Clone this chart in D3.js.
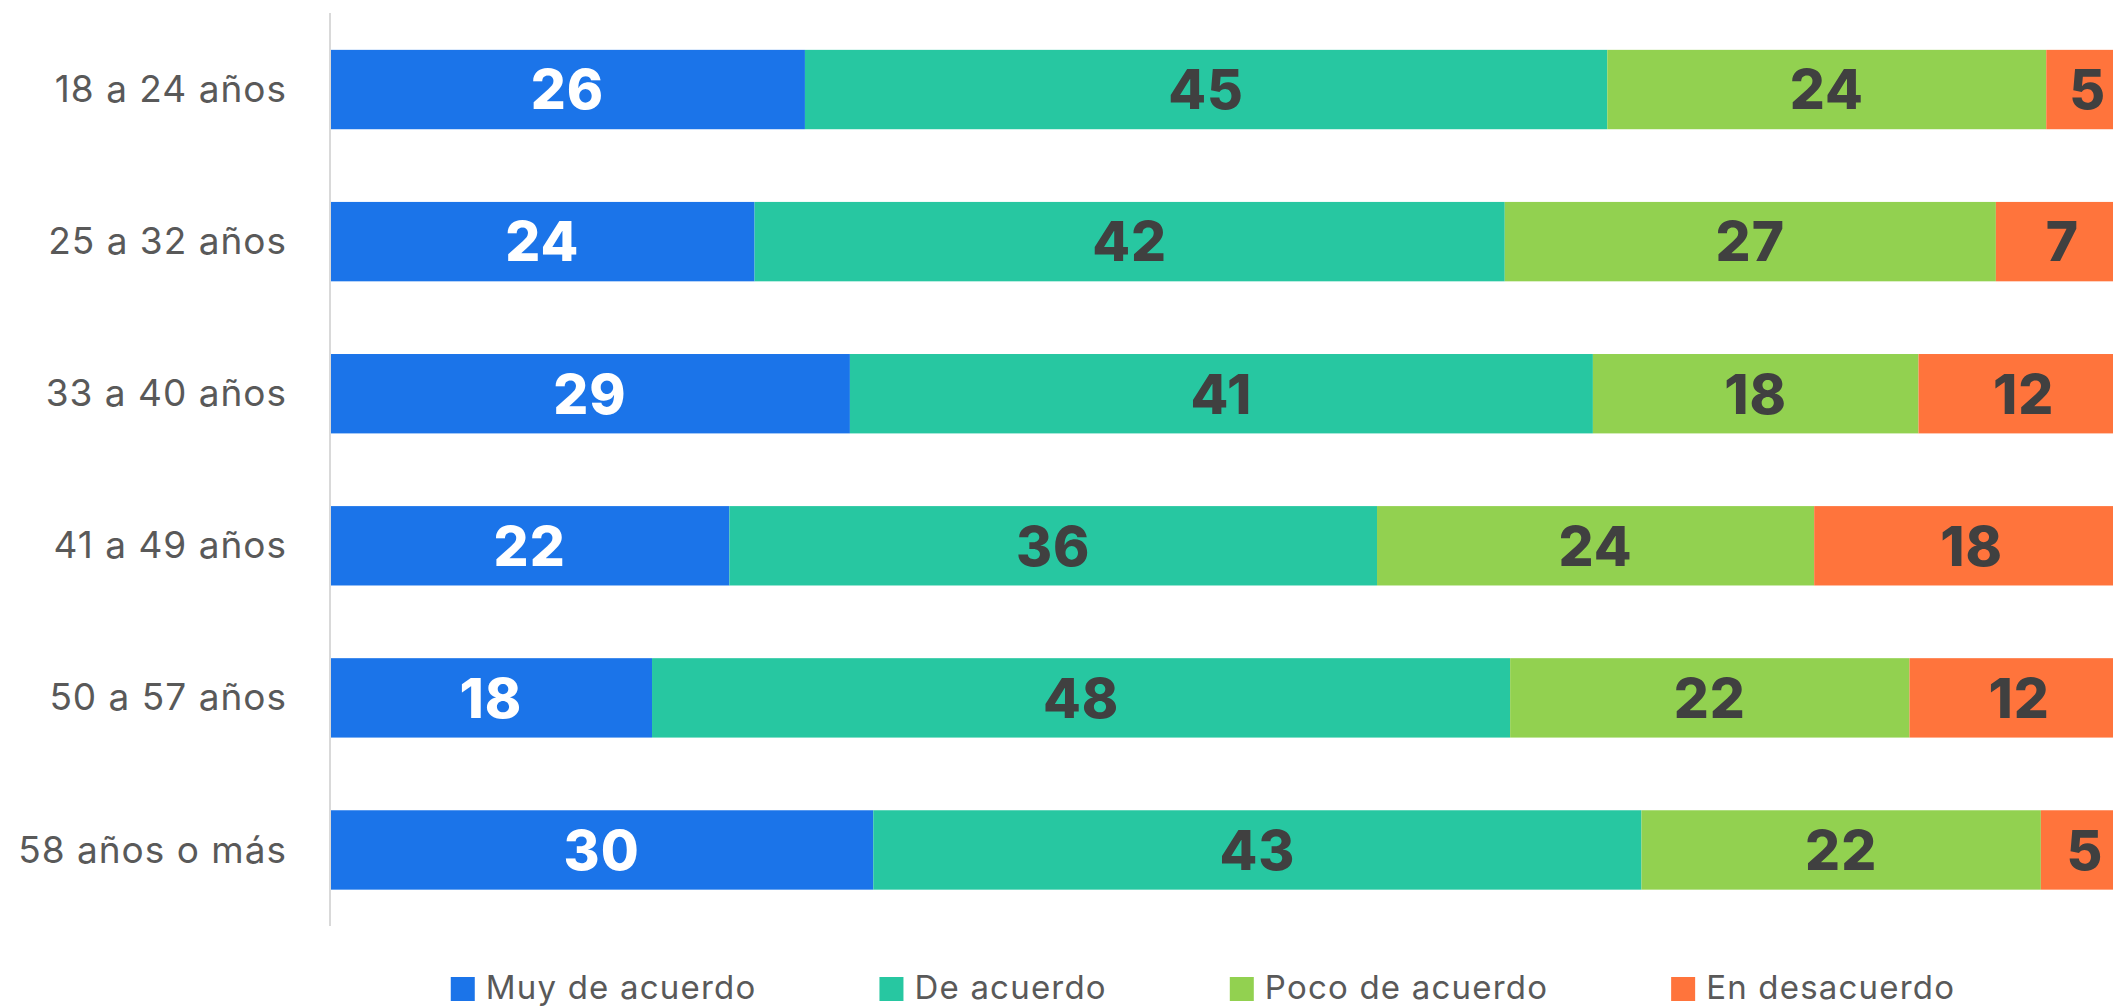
<!DOCTYPE html>
<html>
<head>
	<meta charset="utf-8">
	<title>Grado de acuerdo por edad</title>
	<script src="https://cdn.jsdelivr.net/npm/d3@7"></script>
	<style>
		html, body {
			margin: 0px;
			padding: 0px;
			background: #fff;
			overflow: hidden;
		}
		text { font-family: Inter, "Noto Sans", sans-serif; }
	</style>
</head>
<body>
<svg id="chart" width="2113" height="1006"></svg>
<script type="text/javascript">

	var categories = ["18 a 24 años", "25 a 32 años", "33 a 40 años", "41 a 49 años", "50 a 57 años", "58 años o más"];
	var series = ["Muy de acuerdo", "De acuerdo", "Poco de acuerdo", "En desacuerdo"];

	// values (labels show them rounded)
	var muyDeAcuerdo  = [26.4, 23.6, 28.9, 22.2, 17.9, 30.2];
	var deAcuerdo     = [44.6, 41.7, 41.3, 36.0, 47.7, 42.7];
	var pocoDeAcuerdo = [24.4, 27.3, 18.1, 24.3, 22.2, 22.2];
	var enDesacuerdo  = [4.6, 7.4, 11.7, 17.5, 12.2, 4.9];

	var colors = ["#1b74e9", "#27c7a1", "#92d150", "#ff743c"];
	var labelColors = ["#ffffff", "#404040", "#404040", "#404040"];

	var rows = categories.map(function(c, i) {
		return {cat: c, "Muy de acuerdo": muyDeAcuerdo[i], "De acuerdo": deAcuerdo[i],
			"Poco de acuerdo": pocoDeAcuerdo[i], "En desacuerdo": enDesacuerdo[i]};
	});

	var stacked = d3.stack().keys(series)(rows);

	var svg = d3.select("#chart");

	var x = d3.scaleLinear().domain([0, 100]).range([330, 2129]);
	var y = d3.scaleBand().domain(categories).range([13.5, 926]).paddingInner(0.478).paddingOuter(0.239);

	// bars
	var layers = svg.append("g").selectAll("g")
		.data(stacked)
		.enter().append("g")
		.attr("fill", function(d, i) { return colors[i]; });

	layers.selectAll("rect")
		.data(function(d) { return d; })
		.enter().append("rect")
		.attr("x", function(d) { return x(d[0]); })
		.attr("y", function(d) { return y(d.data.cat); })
		.attr("width", function(d) { return x(d[1]) - x(d[0]); })
		.attr("height", y.bandwidth());

	// value labels
	var labels = svg.append("g").selectAll("g")
		.data(stacked)
		.enter().append("g")
		.attr("fill", function(d, i) { return labelColors[i]; });

	labels.selectAll("text")
		.data(function(d) { return d; })
		.enter().append("text")
		.attr("x", function(d) { return x((d[0] + d[1]) / 2); })
		.attr("y", function(d) { return y(d.data.cat) + y.bandwidth() / 2; })
		.attr("dy", "0.36em")
		.attr("text-anchor", "middle")
		.style("font-size", "55px")
		.style("font-weight", 800)
		.style("letter-spacing", "1px")
		.text(function(d) { return Math.round(d[1] - d[0]); });

	// category axis
	var yAxis = svg.append("g")
		.attr("transform", "translate(330,0)")
		.call(d3.axisLeft(y).tickSize(0).tickPadding(43));

	yAxis.select(".domain").remove();
	yAxis.append("line")
		.attr("x1", 0).attr("x2", 0)
		.attr("y1", 13).attr("y2", 926)
		.attr("stroke", "#d9d9d9")
		.attr("stroke-width", 2);

	yAxis.selectAll(".tick text")
		.attr("fill", "#595959")
		.attr("dy", "0.34em")
		.style("font-size", "37px")
		.style("letter-spacing", "1px")
		.style("font-family", "Inter, sans-serif");

	// legend
	var legend = svg.append("g");
	var items = legend.selectAll("g")
		.data(series)
		.enter().append("g");

	items.append("rect")
		.attr("width", 24).attr("height", 24)
		.attr("y", 977)
		.attr("fill", function(d, i) { return colors[i]; });

	items.append("text")
		.attr("x", 35)
		.attr("y", 999)
		.attr("fill", "#595959")
		.style("font-size", "33px")
		.style("letter-spacing", "1.2px")
		.text(function(d) { return d; });

	var pos = 0, offsets = [];
	items.each(function() {
		offsets.push(pos);
		pos += 35 + this.querySelector("text").getComputedTextLength() + 123;
	});
	var legendWidth = pos - 123;
	var start = 1203 - legendWidth / 2;
	items.attr("transform", function(d, i) { return "translate(" + (start + offsets[i]) + ",0)"; });

</script>
</body>
</html>
